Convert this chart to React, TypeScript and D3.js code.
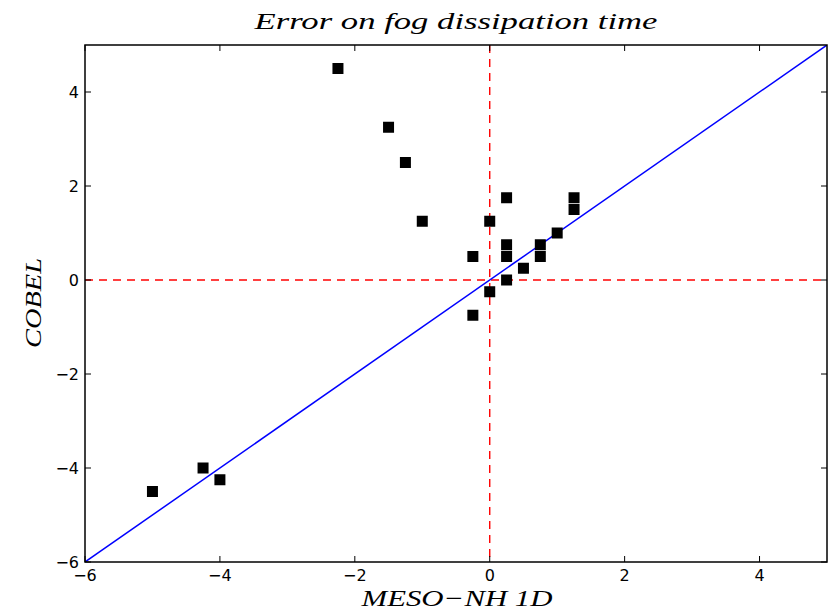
import React from "react";
import * as d3 from "d3";

const xTicks = [-6, -4, -2, 0, 2, 4];
const yTicks = [-6, -4, -2, 0, 2, 4];
const mesoValues = [-2.25, -1.5, -1.25, -1.0, -0.25, -0.25, 0, 0, 0.25, 0.25, 0.25, 0.25, 0.5, 0.75, 0.75, 1.0, 1.25, 1.25, -5, -4.25, -4.0];
const cobelValues = [4.5, 3.25, 2.5, 1.25, 0.5, -0.75, 1.25, -0.25, 1.75, 0.75, 0.5, 0.0, 0.25, 0.75, 0.5, 1.0, 1.75, 1.5, -4.5, -4.0, -4.25];
const titleText = "Error on fog dissipation time";
const xLabel = "MESO\u2212NH 1D";
const yLabel = "COBEL";

const W = 828, H = 610;
const left = 85, right = 827, top = 45, bottom = 562;

export default function App() {
  const x = d3.scaleLinear().domain([-6, 5]).range([left, right]);
  const y = d3.scaleLinear().domain([-6, 5]).range([bottom, top]);
  const fmt = (v: number) => (v < 0 ? "\u2212" + Math.abs(v) : String(v));
  const tickLen = 6;
  const lineGen = d3.line<number>().x((d) => x(d)).y((d) => y(d));
  return (
    <svg width={W} height={H} style={{ position: "absolute", left: 0, top: 0, background: "#fff" }}>
      <rect x={0} y={0} width={W} height={H} fill="#fff" />
      <defs>
        <clipPath id="plotclip">
          <rect x={left} y={top} width={right - left} height={bottom - top} />
        </clipPath>
      </defs>
      <g clipPath="url(#plotclip)">
        <line x1={x(0)} x2={x(0)} y1={top} y2={bottom} stroke="#ff0000" strokeWidth={1.4} strokeDasharray="8,6" />
        <line x1={left} x2={right} y1={y(0)} y2={y(0)} stroke="#ff0000" strokeWidth={1.4} strokeDasharray="8,6" />
        <path d={lineGen([-6, 5]) || ""} stroke="#0000ff" strokeWidth={1.5} fill="none" />
        {mesoValues.map((mv, i) => (
          <rect key={i} x={x(mv) - 5.5} y={y(cobelValues[i]) - 5.5} width={11} height={11} fill="#000" />
        ))}
      </g>
      {xTicks.map((t) => (
        <g key={"x" + t}>
          <line x1={x(t)} x2={x(t)} y1={bottom} y2={bottom - tickLen} stroke="#000" strokeWidth={1} />
          <line x1={x(t)} x2={x(t)} y1={top} y2={top + tickLen} stroke="#000" strokeWidth={1} />
          <text x={x(t)} y={bottom + 19} textAnchor="middle" fontFamily="DejaVu Sans" fontSize={16} fill="#000">{fmt(t)}</text>
        </g>
      ))}
      {yTicks.map((t) => (
        <g key={"y" + t}>
          <line x1={left} x2={left + tickLen} y1={y(t)} y2={y(t)} stroke="#000" strokeWidth={1} />
          <line x1={right} x2={right - tickLen} y1={y(t)} y2={y(t)} stroke="#000" strokeWidth={1} />
          <text x={left - 6} y={y(t) + 6} textAnchor="end" fontFamily="DejaVu Sans" fontSize={16} fill="#000">{fmt(t)}</text>
        </g>
      ))}
      <rect x={left} y={top} width={right - left} height={bottom - top} fill="none" stroke="#000" strokeWidth={1.5} />
      <text x={456} y={29} textAnchor="middle" fontFamily="Liberation Serif" fontStyle="italic" fontSize={24} textLength={403} lengthAdjust="spacingAndGlyphs" fill="#000">{titleText}</text>
      <text x={457} y={606} textAnchor="middle" fontFamily="Liberation Serif" fontStyle="italic" fontSize={23} textLength={191} lengthAdjust="spacingAndGlyphs" fill="#000">{xLabel}</text>
      <text transform={`translate(41, 303) rotate(-90)`} textAnchor="middle" fontFamily="Liberation Serif" fontStyle="italic" fontSize={23} textLength={90} lengthAdjust="spacingAndGlyphs" fill="#000">{yLabel}</text>
    </svg>
  );
}
